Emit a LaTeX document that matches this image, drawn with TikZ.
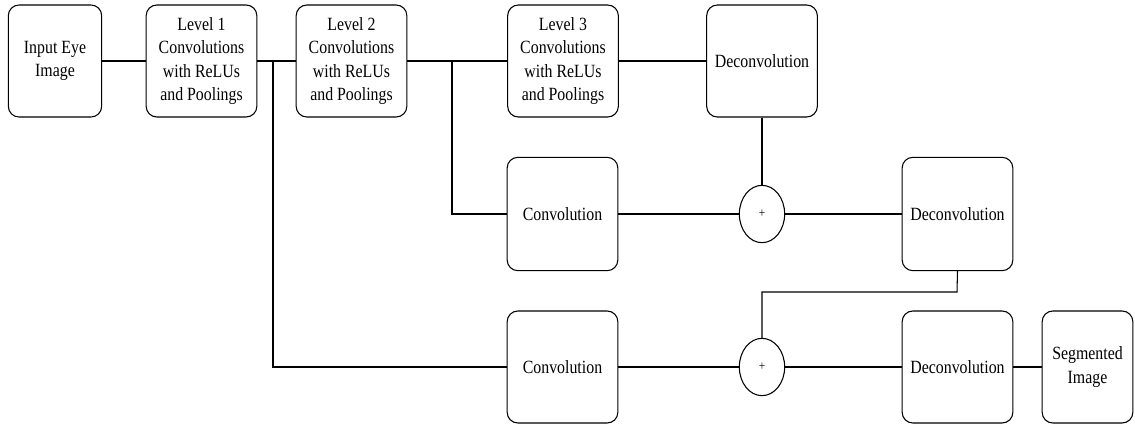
\documentclass[tikz,border=0pt]{standalone}
\usepackage{fontspec}
\setmainfont{Liberation Serif}[FakeStretch=0.85]
\usepackage{tikz}
\usetikzlibrary{calc,shapes.geometric}

\begin{document}
\begin{tikzpicture}[x=0.75pt, y=-0.75pt]
  \tikzstyle{box}=[draw, line width=0.8pt, rounded corners=8pt, align=center, inner sep=0pt,
    minimum width=83pt, minimum height=84pt, font=\fontsize{14}{17.5}\selectfont]
  \tikzstyle{adder}=[draw, line width=0.8pt, ellipse, inner sep=0pt,
    minimum width=34pt, minimum height=43pt, font=\fontsize{10}{12}\selectfont]
  \tikzstyle{wire}=[line width=0.8pt]

  \pgfmathsetmacro{\ya}{61}
  \pgfmathsetmacro{\yb}{214}
  \pgfmathsetmacro{\yc}{367}

  \useasboundingbox (0,0) rectangle (1135,425);

  % top row
  \node (input) [box, minimum width=70pt] at (55,\ya) {Input Eye\\Image};
  \node (lvl1) [box] at (201.5,\ya) {Level 1\\Convolutions\\with ReLUs\\and Poolings};
  \node (lvl2) [box] at (351.5,\ya) {Level 2\\Convolutions\\with ReLUs\\and Poolings};
  \node (lvl3) [box] at (563,\ya) {Level 3\\Convolutions\\with ReLUs\\and Poolings};
  \node (deconv1) [box] at (762,\ya) {Deconvolution};

  % middle row
  \node (conv2) [box, minimum height=85pt] at (562.5,\yb) {Convolution};
  \node (plus1) [adder] at (762,\yb) {+};
  \node (deconv2) [box, minimum height=85pt] at (957.5,\yb) {Deconvolution};

  % bottom row
  \node (conv3) [box] at (562.5,\yc) {Convolution};
  \node (plus2) [adder] at (762,\yc) {+};
  \node (deconv3) [box] at (957.5,\yc) {Deconvolution};
  \node (seg) [box, minimum width=68pt] at (1087.5,\yc) {Segmented\\Image};

  \coordinate (skip1) at (273,\ya);
  \coordinate (skip2) at (452,\ya);
  \coordinate (bend) at (957,292);

  \draw[wire] (input) -- (lvl1);
  \draw[wire] (lvl1) -- (lvl2);
  \draw[wire] (lvl2) -- (lvl3);
  \draw[wire] (lvl3) -- (deconv1);
  \draw[wire] (skip2) |- (conv2.west);
  \draw[wire] (skip1) |- (conv3.west);

  \draw[wire] (deconv1) -- (plus1);
  \draw[wire] (conv2) -- (plus1);
  \draw[wire] (plus1) -- (deconv2);

  \draw[wire] (deconv2.south) -- (bend) -| (plus2.north);
  \draw[wire] (conv3) -- (plus2);
  \draw[wire] (plus2) -- (deconv3);
  \draw[wire] (deconv3) -- (seg);

\end{tikzpicture}
\end{document}
